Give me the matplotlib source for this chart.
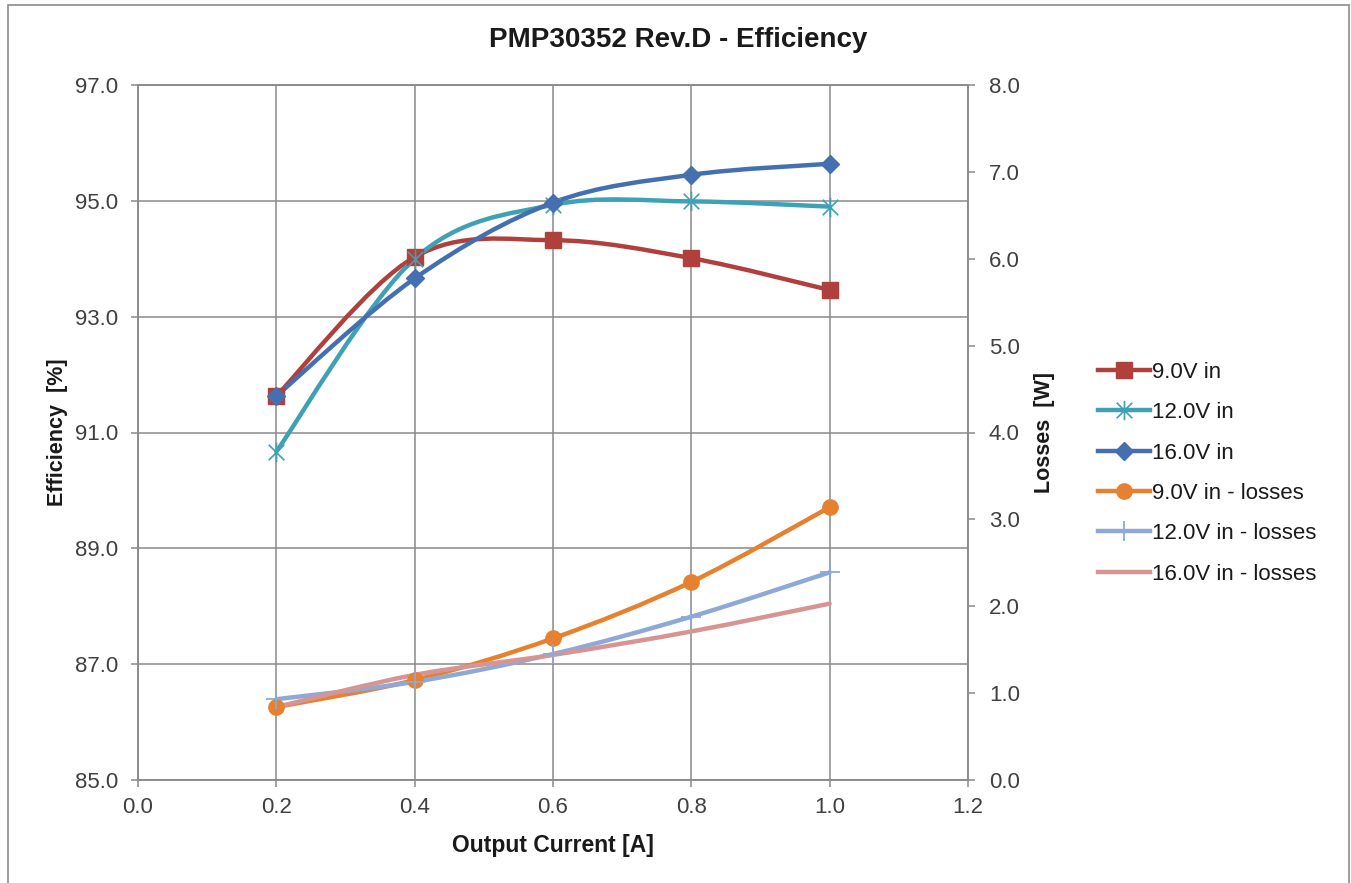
import numpy as np
import matplotlib
matplotlib.use("Agg")
import matplotlib.pyplot as plt
from matplotlib.path import Path
from matplotlib.patches import PathPatch, Rectangle
from matplotlib.lines import Line2D

# ---- data -------------------------------------------------------------
current = [0.2, 0.4, 0.6, 0.8, 1.0]

eff_9v = [91.63, 94.03, 94.32, 94.01, 93.46]
eff_12v = [90.67, 94.00, 94.93, 94.99, 94.90]
eff_16v = [91.63, 93.66, 94.97, 95.45, 95.64]

loss_9v = [0.84, 1.15, 1.63, 2.28, 3.14]
loss_12v = [0.93, 1.13, 1.45, 1.88, 2.39]
loss_16v = [0.84, 1.21, 1.44, 1.71, 2.03]

labels = ["9.0V in", "12.0V in", "16.0V in",
          "9.0V in - losses", "12.0V in - losses", "16.0V in - losses"]

x_ticks = [0.0, 0.2, 0.4, 0.6, 0.8, 1.0, 1.2]
eff_ticks = [85.0, 87.0, 89.0, 91.0, 93.0, 95.0, 97.0]
loss_ticks = [0.0, 1.0, 2.0, 3.0, 4.0, 5.0, 6.0, 7.0, 8.0]

# ---- style ------------------------------------------------------------
plt.rcParams["font.family"] = ["Liberation Sans", "DejaVu Sans"]
GRID = "#8a8a8a"
TXT = "#404040"
c_9v = "#B0403C"
c_12v = "#3FA1B6"
c_16v = "#4470B0"
c_9vl = "#E5812F"
c_12vl = "#8EA9D6"
c_16vl = "#D69493"

# asterisk marker: x plus a vertical bar
star_marker = Path(
    [(-1, -1), (1, 1), (-1, 1), (1, -1), (0, -1.25), (0, 1.25)],
    [Path.MOVETO, Path.LINETO, Path.MOVETO, Path.LINETO, Path.MOVETO, Path.LINETO],
)


def smooth_path(xs, ys):
    """Bezier path through the points (Catmull-Rom style smoothing)."""
    pts = np.column_stack([xs, ys]).astype(float)
    n = len(pts)
    verts = [pts[0]]
    codes = [Path.MOVETO]
    for i in range(n - 1):
        p0 = pts[i - 1] if i > 0 else pts[i]
        p1 = pts[i]
        p2 = pts[i + 1]
        p3 = pts[i + 2] if i + 2 < n else pts[i + 1]
        c1 = p1 + (p2 - p0) / 6.0
        c2 = p2 - (p3 - p1) / 6.0
        verts += [c1, c2, p2]
        codes += [Path.CURVE4] * 3
    return Path(verts, codes)


fig = plt.figure(figsize=(13.51, 8.83), dpi=100)
fig.patch.set_facecolor("white")
ax = fig.add_axes([138 / 1351, 1 - 780 / 883, (968 - 138) / 1351, (780 - 85) / 883])
ax2 = ax.twinx()

# outer chart border
fig.add_artist(Rectangle((8 / 1351, -0.02), (1349 - 8) / 1351, 1.02 - 5 / 883,
                         transform=fig.transFigure, fill=False,
                         edgecolor="#8c8c8c", linewidth=1.2))

ax.set_xlim(0.0, 1.2)
ax.set_ylim(85.0, 97.0)
ax2.set_ylim(0.0, 8.0)

ax.set_xticks(x_ticks)
ax.set_xticklabels([f"{v:.1f}" for v in x_ticks])
ax.set_yticks(eff_ticks)
ax.set_yticklabels([f"{v:.1f}" for v in eff_ticks])
ax2.set_yticks(loss_ticks)
ax2.set_yticklabels([f"{v:.1f}" for v in loss_ticks])

ax.grid(True, color=GRID, linewidth=1.1)
ax.set_axisbelow(True)
for a in (ax, ax2):
    for s in a.spines.values():
        s.set_color(GRID)
        s.set_linewidth(1.1)
ax.tick_params(axis="both", direction="out", length=5, width=1.1, color=GRID,
               labelsize=16, labelcolor=TXT)
ax.tick_params(axis="y", pad=9)
ax.tick_params(axis="x", pad=7)
ax2.tick_params(axis="y", direction="out", length=5, width=1.1, color=GRID,
                labelsize=16, labelcolor=TXT, pad=10)

lw = 3.2
eff_series = [
    (eff_9v, c_9v, dict(marker="s", markersize=11.5)),
    (eff_12v, c_12v, dict(marker=star_marker, markersize=14, markeredgewidth=1.2,
                           markerfacecolor="none")),
    (eff_16v, c_16v, dict(marker="D", markersize=9.5)),
]
loss_series = [
    (loss_9v, c_9vl, dict(marker="o", markersize=11)),
    (loss_12v, c_12vl, dict(marker="+", markersize=14, markeredgewidth=1.3)),
    (loss_16v, c_16vl, dict(marker="None")),
]

handles = []
for axis, series in ((ax, eff_series), (ax2, loss_series)):
    for ys, col, mk in series:
        axis.add_patch(PathPatch(smooth_path(current, ys), fill=False,
                                 edgecolor=col, linewidth=lw,
                                 capstyle="round", joinstyle="round", zorder=3))
        axis.plot(current, ys, linestyle="none", color=col,
                  markeredgecolor=col, zorder=4, **mk)
        handles.append(Line2D([], [], color=col, linewidth=lw,
                              markeredgecolor=col, **mk))

fig.text(678 / 1351, 1 - 40 / 883, "PMP30352 Rev.D - Efficiency", fontsize=20,
         fontweight="bold", color="#1a1a1a", ha="center", va="center")
ax.set_xlabel("Output Current [A]", fontsize=16.5, fontweight="bold",
              color="#1a1a1a", labelpad=12)
ax.set_ylabel("Efficiency  [%]", fontsize=15.5, fontweight="bold",
              color="#1a1a1a", labelpad=5)
ax2.set_ylabel("Losses  [W]", fontsize=15.5, fontweight="bold",
               color="#1a1a1a", labelpad=10)

fig.legend(handles, labels, loc="upper left",
           bbox_to_anchor=(1089 / 1351, 1 - 353 / 883), frameon=False,
           fontsize=16, labelcolor="#1a1a1a", handlelength=2.35,
           handletextpad=0.1, labelspacing=0.87, borderaxespad=0)

fig.savefig("out.png", dpi=100, facecolor="white")
